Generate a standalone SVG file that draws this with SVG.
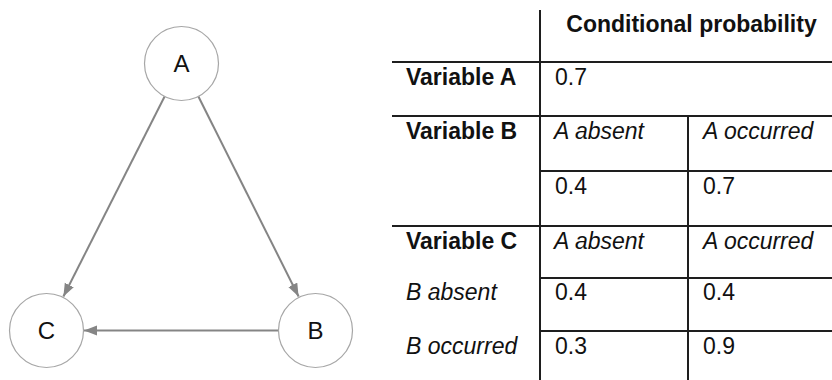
<svg xmlns="http://www.w3.org/2000/svg" width="832" height="380" viewBox="0 0 832 380">
  <style>
    .node circle { fill: #ffffff; stroke: #a6a6a6; stroke-width: 1.2; }
    .node text { font-family: "Liberation Sans", Arial, sans-serif; font-size: 24px; fill: #111; text-anchor: middle; }
    .edge { stroke: #858585; stroke-width: 2; fill: none; marker-end: url(#arrow); }
    .grid { stroke: #1e1e1e; stroke-width: 2; fill: none; }
    .t { font-family: "Liberation Sans", Arial, sans-serif; font-size: 23px; fill: #111; }
    .b { font-weight: bold; }
    .i { font-style: italic; }
  </style>
  <defs>
    <marker id="arrow" markerUnits="userSpaceOnUse" markerWidth="14" markerHeight="12" refX="13" refY="5" orient="auto">
      <path d="M0,0 L13,5 L0,10 z" fill="#858585"/>
    </marker>
  </defs>
  <rect width="832" height="380" fill="#ffffff"/>

  <!-- directed edges between the variables -->
  <g id="connectors">
    <line class="edge" x1="164.6" y1="96.5" x2="63.4" y2="296.5"/>
    <line class="edge" x1="198.4" y1="96.5" x2="298.6" y2="296.5"/>
    <line class="edge" x1="278.5" y1="330.5" x2="84" y2="330.5"/>
  </g>

  <g id="node-A" class="node">
    <circle cx="181.5" cy="63.5" r="37"/>
    <text x="181.5" y="72">A</text>
  </g>
  <g id="node-B" class="node">
    <circle cx="315.5" cy="330.5" r="37"/>
    <text x="315.5" y="339">B</text>
  </g>
  <g id="node-C" class="node">
    <circle cx="46.5" cy="330.5" r="37"/>
    <text x="46.5" y="339">C</text>
  </g>

  <!-- probability table -->
  <g id="table">
    <g class="grid">
      <line x1="540" y1="10" x2="540" y2="380"/>
      <line x1="688" y1="116" x2="688" y2="380"/>
      <line x1="392" y1="62" x2="832" y2="62"/>
      <line x1="392" y1="116" x2="832" y2="116"/>
      <line x1="540" y1="171" x2="832" y2="171"/>
      <line x1="392" y1="226" x2="832" y2="226"/>
      <line x1="540" y1="278" x2="832" y2="278"/>
      <line x1="540" y1="331" x2="832" y2="331"/>
    </g>
    <text class="t b" x="691.5" y="32" text-anchor="middle">Conditional probability</text>

    <text class="t b" x="406" y="85">Variable A</text>
    <text class="t" x="555" y="85">0.7</text>

    <text class="t b" x="406" y="139">Variable B</text>
    <text class="t i" x="554" y="139">A absent</text>
    <text class="t i" x="703" y="139">A occurred</text>
    <text class="t" x="555" y="194">0.4</text>
    <text class="t" x="703" y="194">0.7</text>

    <text class="t b" x="406" y="249">Variable C</text>
    <text class="t i" x="554" y="249">A absent</text>
    <text class="t i" x="703" y="249">A occurred</text>
    <text class="t i" x="406" y="300">B absent</text>
    <text class="t" x="555" y="300">0.4</text>
    <text class="t" x="703" y="300">0.4</text>
    <text class="t i" x="406" y="354">B occurred</text>
    <text class="t" x="555" y="354">0.3</text>
    <text class="t" x="703" y="354">0.9</text>
  </g>
</svg>
